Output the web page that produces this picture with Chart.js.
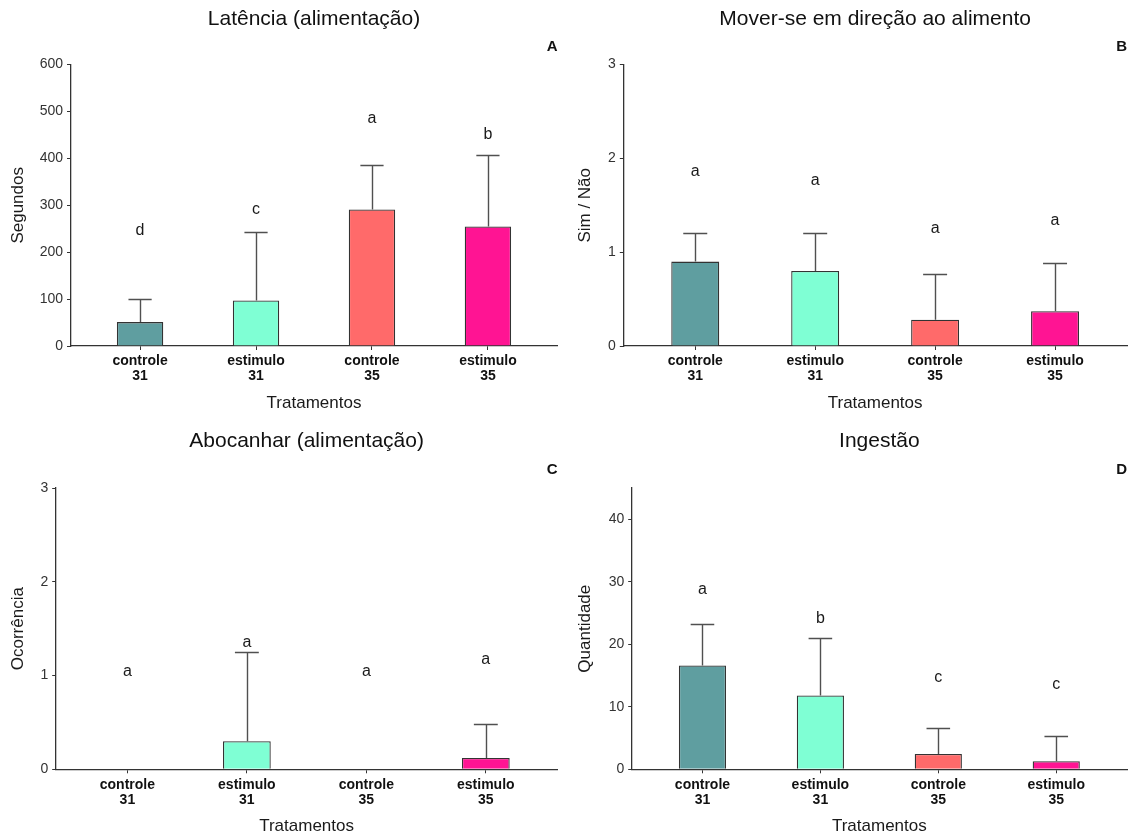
<!DOCTYPE html>
<html>
<head>
<meta charset="utf-8">
<script src="https://cdn.jsdelivr.net/npm/chart.js@4/dist/chart.umd.min.js"></script>
<style>
  html, body { margin: 0; padding: 0; background: #ffffff; }
  body { width: 1129px; height: 838px; position: relative; overflow: hidden; }
  canvas { position: absolute; }
</style>
</head>
<body>
<canvas id="cA" width="565" height="420" style="left:0px;top:0px;"></canvas>
<canvas id="cB" width="564" height="420" style="left:565px;top:0px;"></canvas>
<canvas id="cC" width="565" height="418" style="left:0px;top:420px;"></canvas>
<canvas id="cD" width="564" height="418" style="left:565px;top:420px;"></canvas>
<script>
// ---------- data ----------
const categories = ['controle', 'estimulo', 'controle', 'estimulo'];
const temperatures = ['31', '31', '35', '35'];
const positions = [1, 2, 3, 4];
const barColors = ['#5F9EA0', '#7FFFD4', '#FF6A6A', '#FF1493'];
const xTitle = 'Tratamentos';

// A: Latência (alimentação)
const latenciaTitle = 'Latência (alimentação)';
const latenciaYTitle = 'Segundos';
const latenciaMean = [51, 97, 291, 255];
const latenciaUpper = [100, 243, 386, 408];
const latenciaLetters = ['d', 'c', 'a', 'b'];
const latenciaLetterY = [247, 291, 485, 450];
const latenciaTicks = [0, 100, 200, 300, 400, 500, 600];
const latenciaMax = 600;

// B: Mover-se em direção ao alimento
const moverTitle = 'Mover-se em direção ao alimento';
const moverYTitle = 'Sim / Não';
const moverMean = [0.9, 0.8, 0.28, 0.37];
const moverUpper = [1.21, 1.21, 0.77, 0.89];
const moverLetters = ['a', 'a', 'a', 'a'];
const moverLetterY = [1.86, 1.76, 1.25, 1.34];
const moverTicks = [0, 1, 2, 3];
const moverMax = 3;

// C: Abocanhar (alimentação)
const abocanharTitle = 'Abocanhar (alimentação)';
const abocanharYTitle = 'Ocorrência';
const abocanharMean = [0, 0.3, 0, 0.12];
const abocanharUpper = [0, 1.25, 0, 0.48];
const abocanharLetters = ['a', 'a', 'a', 'a'];
const abocanharLetterY = [1.04, 1.35, 1.04, 1.17];
const abocanharTicks = [0, 1, 2, 3];
const abocanharMax = 3;

// D: Ingestão
const ingestaoTitle = 'Ingestão';
const ingestaoYTitle = 'Quantidade';
const ingestaoMean = [16.6, 11.8, 2.45, 1.3];
const ingestaoUpper = [23.3, 21.0, 6.65, 5.3];
const ingestaoLetters = ['a', 'b', 'c', 'c'];
const ingestaoLetterY = [28.8, 24.1, 14.7, 13.5];
const ingestaoTicks = [0, 10, 20, 30, 40];
const ingestaoMax = 45;

const panelLetters = ['A', 'B', 'C', 'D'];

// ---------- rendering ----------
const FAMILY = '"Liberation Sans", Arial, Helvetica, sans-serif';
Chart.defaults.font.family = FAMILY;

const errorLettersPlugin = {
  id: 'errorLetters',
  afterDatasetsDraw(chart, args, opts) {
    const ctx = chart.ctx;
    const xs = chart.scales.x, ys = chart.scales.y;
    ctx.save();
    // error bars (upper only)
    ctx.strokeStyle = '#505050';
    ctx.lineWidth = 1.4;
    opts.mean.forEach((m, i) => {
      const up = opts.upper[i];
      if (!(up > m)) return;
      const px = xs.getPixelForValue(opts.pos[i]);
      const y0 = ys.getPixelForValue(m);
      const y1 = ys.getPixelForValue(up);
      const hw = (xs.getPixelForValue(opts.pos[i] + 0.1) - xs.getPixelForValue(opts.pos[i] - 0.1)) / 2;
      ctx.beginPath();
      ctx.moveTo(Math.round(px) + 0.5, y0);
      ctx.lineTo(Math.round(px) + 0.5, Math.round(y1) + 0.5);
      ctx.moveTo(px - hw, Math.round(y1) + 0.5);
      ctx.lineTo(px + hw, Math.round(y1) + 0.5);
      ctx.stroke();
    });
    // significance letters
    ctx.fillStyle = '#1a1a1a';
    ctx.font = '16px ' + FAMILY;
    ctx.textAlign = 'center';
    ctx.textBaseline = 'middle';
    opts.letters.forEach((t, i) => {
      ctx.fillText(t, xs.getPixelForValue(opts.pos[i]), ys.getPixelForValue(opts.letterY[i]));
    });
    ctx.restore();
  }
};

function makePanel(id, cfg) {
  const data = positions.map((p, i) => ({ x: p, y: cfg.mean[i] }));
  return new Chart(document.getElementById(id), {
    type: 'bar',
    data: {
      datasets: [{
        data: data,
        backgroundColor: barColors,
        borderColor: '#333333',
        borderWidth: 1.3,
        barPercentage: 0.4,
        categoryPercentage: 1.0
      }]
    },
    options: {
      responsive: false,
      animation: false,
      events: [],
      layout: { padding: { left: 0, right: cfg.padRight, top: 0, bottom: 0 } },
      plugins: {
        legend: { display: false },
        tooltip: { enabled: false },
        title: {
          display: true, text: cfg.title, fullSize: false, align: 'center',
          color: '#111111', font: { size: 21, weight: 'normal', lineHeight: 1.2 },
          padding: { top: cfg.titleTop, bottom: 0 }
        },
        subtitle: {
          display: true, text: cfg.letter, fullSize: false, align: 'end',
          color: '#111111', font: { size: 15, weight: 'bold', lineHeight: 1.2 },
          padding: { top: cfg.subTop, bottom: cfg.subBottom }
        },
        errorLetters: {
          pos: positions, mean: cfg.mean, upper: cfg.upper,
          letters: cfg.letters, letterY: cfg.letterY
        }
      },
      scales: {
        x: {
          type: 'linear', min: 0.4, max: 4.6, offset: false,
          afterBuildTicks: s => { s.ticks = positions.map(v => ({ value: v })); },
          afterFit: s => { s.height = cfg.xHeight; },
          ticks: {
            autoSkip: false, maxRotation: 0, minRotation: 0, padding: 4,
            color: '#111111',
            font: { size: 14, weight: 'bold', lineHeight: 1.07 },
            callback: (v, i) => [categories[i], temperatures[i]]
          },
          grid: { offset: false, drawOnChartArea: false, drawTicks: true, tickLength: 4, color: '#333333', lineWidth: 1 },
          border: { display: true, color: '#333333', width: 1.3 },
          title: {
            display: true, text: xTitle, color: '#1a1a1a',
            font: { size: 17, lineHeight: 1.2 },
            padding: { top: 0, bottom: cfg.xTitleBottom }
          }
        },
        y: {
          type: 'linear', min: 0, max: cfg.max,
          afterBuildTicks: s => { s.ticks = cfg.ticks.map(v => ({ value: v })); },
          afterFit: s => { s.width = cfg.yWidth; },
          ticks: { color: '#333333', font: { size: 14 }, padding: 4 },
          grid: { drawOnChartArea: false, drawTicks: true, tickLength: 3.5, color: '#333333', lineWidth: 1 },
          border: { display: true, color: '#333333', width: 1.3 },
          title: {
            display: true, text: cfg.yTitle, color: '#1a1a1a',
            font: { size: 17, lineHeight: 1.2 },
            padding: { top: cfg.yTitleTop, bottom: 0 }
          }
        }
      }
    },
    plugins: [errorLettersPlugin]
  });
}

makePanel('cA', {
  title: latenciaTitle, letter: panelLetters[0], yTitle: latenciaYTitle,
  mean: latenciaMean, upper: latenciaUpper, letters: latenciaLetters, letterY: latenciaLetterY,
  ticks: latenciaTicks, max: latenciaMax,
  padRight: 7.5, yWidth: 70.5, xHeight: 74,
  titleTop: 6.4, subTop: 6.7, subBottom: 8.3, yTitleTop: 7.8, xTitleBottom: 6.3
});
makePanel('cB', {
  title: moverTitle, letter: panelLetters[1], yTitle: moverYTitle,
  mean: moverMean, upper: moverUpper, letters: moverLetters, letterY: moverLetterY,
  ticks: moverTicks, max: moverMax,
  padRight: 2, yWidth: 58.3, xHeight: 74,
  titleTop: 6.4, subTop: 6.7, subBottom: 8.3, yTitleTop: 9.8, xTitleBottom: 6.3
});
makePanel('cC', {
  title: abocanharTitle, letter: panelLetters[2], yTitle: abocanharYTitle,
  mean: abocanharMean, upper: abocanharUpper, letters: abocanharLetters, letterY: abocanharLetterY,
  ticks: abocanharTicks, max: abocanharMax,
  padRight: 7.5, yWidth: 55.7, xHeight: 68.7,
  titleTop: 9.1, subTop: 6.3, subBottom: 9.5, yTitleTop: 7.8, xTitleBottom: 1.3
});
makePanel('cD', {
  title: ingestaoTitle, letter: panelLetters[3], yTitle: ingestaoYTitle,
  mean: ingestaoMean, upper: ingestaoUpper, letters: ingestaoLetters, letterY: ingestaoLetterY,
  ticks: ingestaoTicks, max: ingestaoMax,
  padRight: 2, yWidth: 66.7, xHeight: 68.7,
  titleTop: 9.1, subTop: 6.3, subBottom: 9.5, yTitleTop: 10.3, xTitleBottom: 1.3
});
</script>
</body>
</html>
